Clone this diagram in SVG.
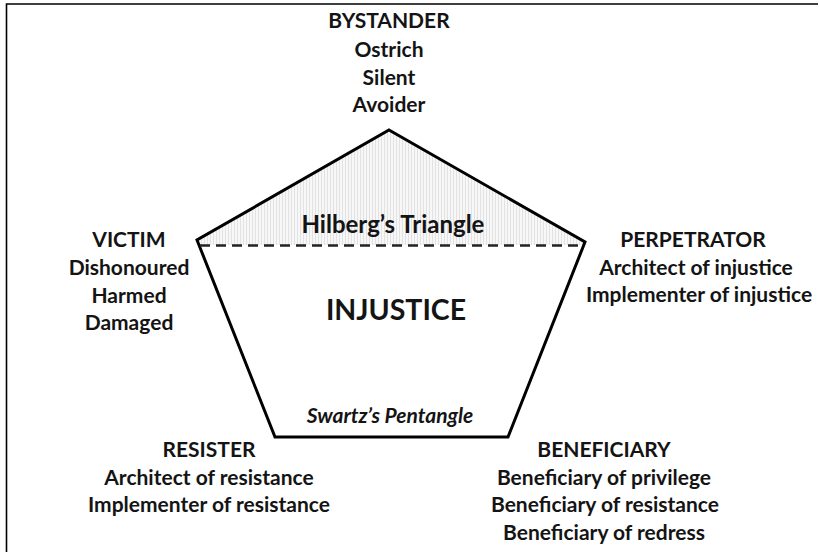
<svg xmlns="http://www.w3.org/2000/svg" width="819" height="552" viewBox="0 0 819 552">
<style>
.lbl{font-family:Lato,"Open Sans","Liberation Sans",sans-serif;font-weight:bold;font-size:21px;fill:#141414;text-anchor:middle}
.big{font-size:28.5px}
.hil{font-size:24px}
.it{font-style:italic;font-size:21px}
.edge{fill:none;stroke:#000;stroke-width:3;stroke-linejoin:miter}
</style>
<defs>
<pattern id="hatch" width="3" height="10" patternUnits="userSpaceOnUse">
<rect width="3" height="10" fill="#f7f7f7"/>
<line x1="0.5" y1="0" x2="0.5" y2="10" stroke="#e2e2e2" stroke-width="1"/>
</pattern>
</defs>
<rect width="819" height="552" fill="#fff"/>
<path d="M6.5 552 V4 H818" fill="none" stroke="#000" stroke-width="1.6"/>
<g id="pentagon">
<polygon points="389,130 585,242 585,245 197,245 197,240" fill="url(#hatch)"/>
<polygon class="edge" points="389,130 585,242 508,437 275,437 197,240"/>
</g>
<g id="connectors">
<line x1="200" y1="245.5" x2="582" y2="245.5" stroke="#222" stroke-width="2.5" stroke-dasharray="10,6"/>
</g>
<g id="hilberg"><text class="lbl hil" x="393" y="233">Hilberg’s Triangle</text></g>
<g id="injustice"><text class="lbl big" x="396" y="320">INJUSTICE</text></g>
<g id="swartz"><text class="lbl it" x="390" y="423">Swartz’s Pentangle</text></g>
<g id="bystander">
<text class="lbl" x="389" y="28">BYSTANDER</text>
<text class="lbl" x="389" y="57">Ostrich</text>
<text class="lbl" x="389" y="85">Silent</text>
<text class="lbl" x="389" y="112">Avoider</text>
</g>
<g id="victim">
<text class="lbl" x="129" y="247">VICTIM</text>
<text class="lbl" x="129" y="275">Dishonoured</text>
<text class="lbl" x="129" y="303">Harmed</text>
<text class="lbl" x="129" y="330">Damaged</text>
</g>
<g id="perpetrator">
<text class="lbl" x="693" y="247">PERPETRATOR</text>
<text class="lbl" x="696" y="275">Architect of injustice</text>
<text class="lbl" x="699" y="302">Implementer of injustice</text>
</g>
<g id="resister">
<text class="lbl" x="209" y="457">RESISTER</text>
<text class="lbl" x="209" y="485">Architect of resistance</text>
<text class="lbl" x="209" y="512">Implementer of resistance</text>
</g>
<g id="beneficiary">
<text class="lbl" x="604" y="457">BENEFICIARY</text>
<text class="lbl" x="604" y="485">Beneficiary of privilege</text>
<text class="lbl" x="605" y="512">Beneficiary of resistance</text>
<text class="lbl" x="604" y="540">Beneficiary of redress</text>
</g>
</svg>
